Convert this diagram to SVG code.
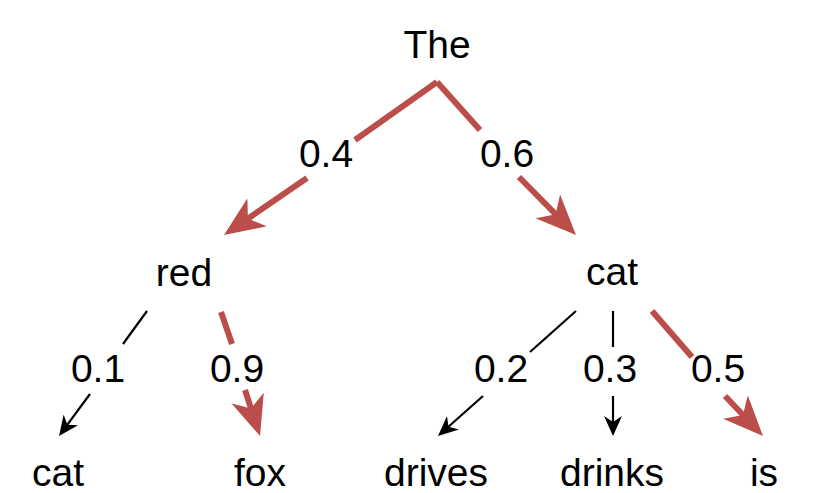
<svg xmlns="http://www.w3.org/2000/svg" width="815" height="493" viewBox="0 0 815 493">
<style>
text { font-family: "Liberation Sans", Arial, Helvetica, sans-serif; font-size: 39px; fill: #000; text-anchor: middle; }
.red { stroke: #bb4e4a; stroke-width: 6; fill: none; }
.blk { stroke: #000; stroke-width: 2.2; fill: none; }
</style>
<defs>
<marker id="hr" viewBox="0 0 40 34" refX="28" refY="17" markerWidth="40" markerHeight="34" markerUnits="userSpaceOnUse" orient="auto">
<path d="M0,0 L40,17 L0,34 L11,17 Z" fill="#bb4e4a"/>
</marker>
<marker id="hb" viewBox="0 0 20 18" refX="14" refY="9" markerWidth="20" markerHeight="18" markerUnits="userSpaceOnUse" orient="auto">
<path d="M0,0 L20,9 L0,18 L6,9 Z" fill="#000"/>
</marker>
</defs>
<rect width="815" height="493" fill="#fff"/>
<g id="connectors">
<line class="red" x1="437" y1="82" x2="355" y2="140"/>
<line class="red" x1="307" y1="178" x2="233.9" y2="228.2" marker-end="url(#hr)"/>
<line class="red" x1="437" y1="82" x2="480" y2="130"/>
<line class="red" x1="519" y1="177" x2="567.6" y2="226.4" marker-end="url(#hr)"/>
<line class="blk" x1="147" y1="311" x2="123" y2="344"/>
<line class="blk" x1="90" y1="394" x2="62.6" y2="431.2" marker-end="url(#hb)"/>
<line class="red" x1="221" y1="312" x2="232" y2="344"/>
<line class="red" x1="245" y1="390" x2="256.3" y2="424.6" marker-end="url(#hr)"/>
<line class="blk" x1="576" y1="311" x2="530" y2="352"/>
<line class="blk" x1="483" y1="396" x2="442.5" y2="432" marker-end="url(#hb)"/>
<line class="blk" x1="613" y1="311" x2="613" y2="347"/>
<line class="blk" x1="613" y1="396" x2="613" y2="430" marker-end="url(#hb)"/>
<line class="red" x1="652" y1="311" x2="692" y2="357"/>
<line class="red" x1="725" y1="396" x2="754.7" y2="427.3" marker-end="url(#hr)"/>
<text x="326" y="167">0.4</text>
<text x="507" y="167">0.6</text>
<text x="98" y="382">0.1</text>
<text x="237" y="382">0.9</text>
<text x="501" y="382">0.2</text>
<text x="610" y="382">0.3</text>
<text x="718" y="382">0.5</text>
</g>
<g id="n-the"><text x="437" y="58">The</text></g>
<g id="n-red"><text x="184" y="286">red</text></g>
<g id="n-cat"><text x="612" y="285">cat</text></g>
<g id="n-cat2"><text x="58" y="486">cat</text></g>
<g id="n-fox"><text x="260" y="486">fox</text></g>
<g id="n-drives"><text x="436" y="486">drives</text></g>
<g id="n-drinks"><text x="612" y="486">drinks</text></g>
<g id="n-is"><text x="764" y="486">is</text></g>
</svg>
